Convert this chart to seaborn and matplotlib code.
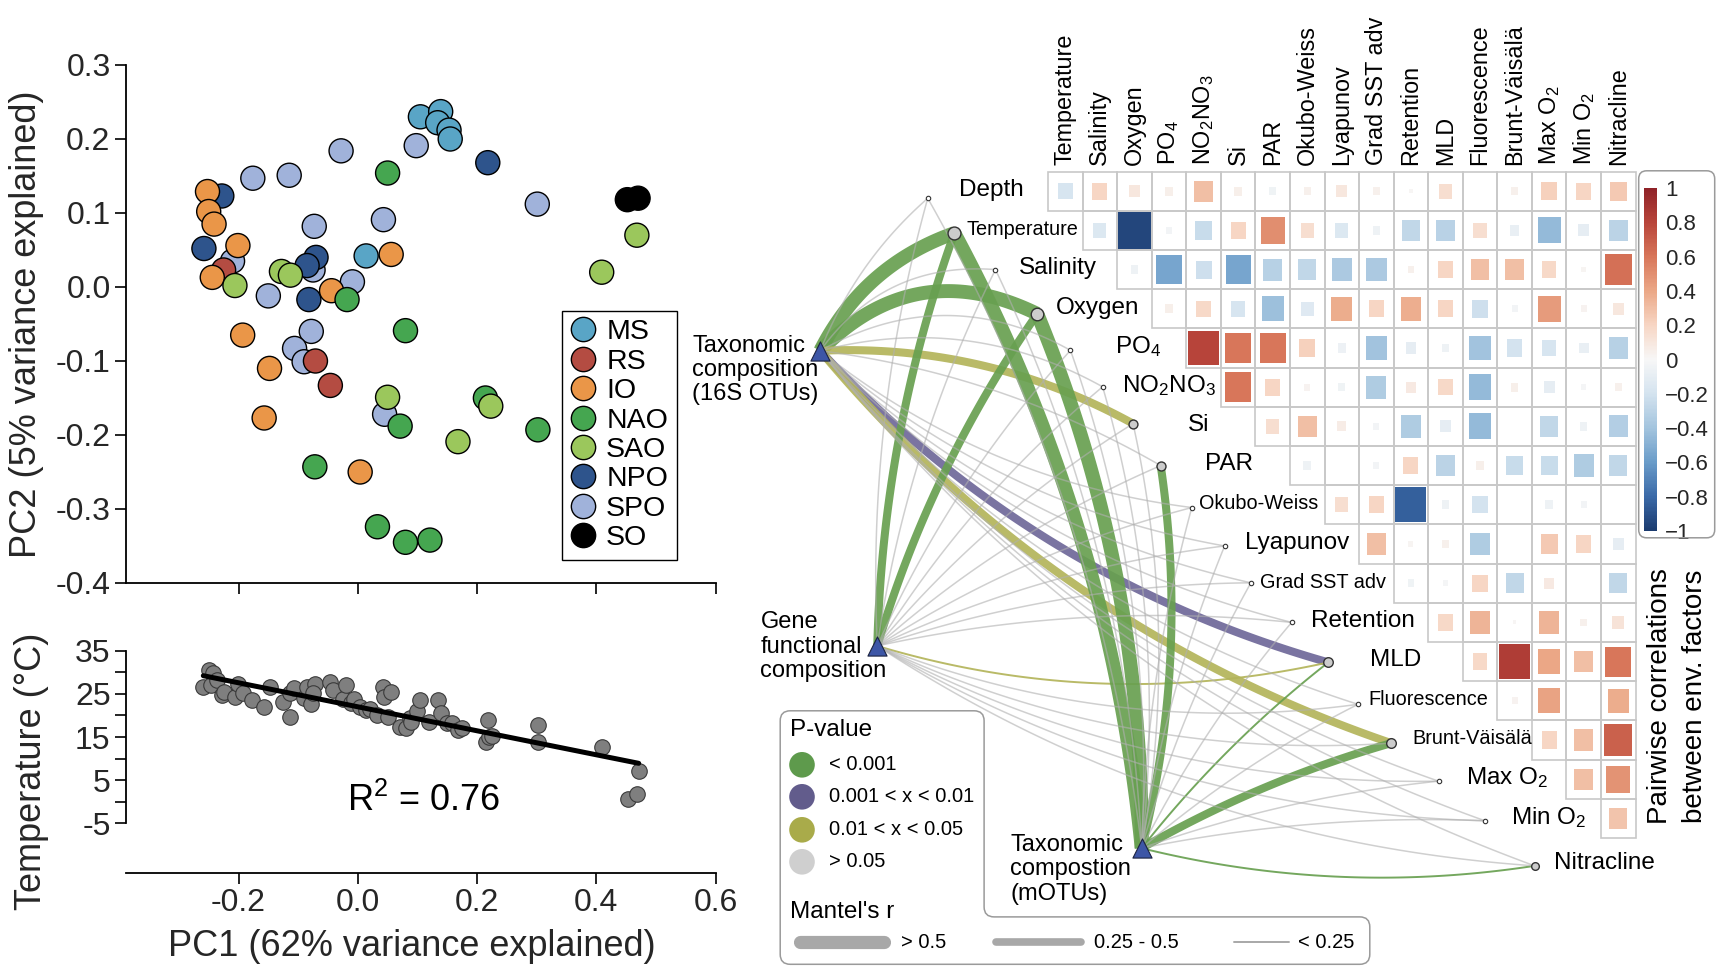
import numpy as np
import pandas as pd
import matplotlib
matplotlib.use("Agg")
import matplotlib.pyplot as plt
import seaborn as sns
from matplotlib.path import Path
from matplotlib.patches import PathPatch, Rectangle
from matplotlib.lines import Line2D
from matplotlib.colors import Normalize, LinearSegmentedColormap
from matplotlib.cm import ScalarMappable

# ======================= DATA =======================
regions = ["MS", "RS", "IO", "NAO", "SAO", "NPO", "SPO", "SO"]
region_colors = ["#59a5c6", "#b44c42", "#ea9648", "#45a650", "#9bc75c", "#2e548c", "#a0b2da", "#000000"]

ms_pc1 = [0.105, 0.139, 0.134, 0.153, 0.155, 0.014]
ms_pc2 = [0.230, 0.237, 0.222, 0.212, 0.200, 0.042]
rs_pc1 = [-0.225, -0.071, -0.046]
rs_pc2 = [0.023, -0.100, -0.133]
io_pc1 = [-0.252, -0.250, -0.241, -0.201, -0.244, 0.056, -0.044, -0.193, -0.148, -0.157, 0.004]
io_pc2 = [0.129, 0.102, 0.085, 0.056, 0.013, 0.044, -0.005, -0.065, -0.110, -0.177, -0.250]
nao_pc1 = [0.050, -0.018, 0.080, 0.214, 0.071, 0.302, -0.072, 0.033, 0.080, 0.121]
nao_pc2 = [0.154, -0.017, -0.059, -0.150, -0.188, -0.193, -0.243, -0.324, -0.345, -0.342]
sao_pc1 = [0.468, 0.409, -0.128, -0.113, -0.206, 0.050, 0.223, 0.168]
sao_pc2 = [0.070, 0.020, 0.021, 0.016, 0.002, -0.149, -0.161, -0.209]
npo_pc1 = [-0.228, -0.258, -0.070, -0.085, -0.082, 0.218]
npo_pc2 = [0.123, 0.052, 0.040, 0.029, -0.017, 0.168]
spo_pc1 = [-0.176, -0.115, -0.028, 0.098, 0.301, 0.043, -0.073, -0.210, -0.075, -0.009, -0.150, -0.078, -0.106, -0.090, 0.045]
spo_pc2 = [0.147, 0.151, 0.184, 0.191, 0.112, 0.091, 0.082, 0.035, 0.023, 0.007, -0.012, -0.060, -0.083, -0.101, -0.172]
so_pc1 = [0.452, 0.470]
so_pc2 = [0.118, 0.120]

pc2_ticks = [-0.4, -0.3, -0.2, -0.1, 0.0, 0.1, 0.2, 0.3]
pc2_ticklabels = ["-0.4", "-0.3", "-0.2", "-0.1", "0.0", "0.1", "0.2", "0.3"]
pc1_ticks = [-0.2, 0.0, 0.2, 0.4, 0.6]
pc1_ticklabels = ["-0.2", "0.0", "0.2", "0.4", "0.6"]

temp_pc1 = [-0.259, -0.249, -0.243, -0.246, -0.236, -0.228, -0.224, -0.206, -0.201, -0.192, -0.177, -0.157,
            -0.148, -0.126, -0.113, -0.114, -0.107, -0.090, -0.085, -0.078, -0.071, -0.075, -0.046, -0.042,
            -0.025, -0.019, -0.012, -0.007, 0.003, 0.014, 0.020, 0.032, 0.042, 0.044, 0.056, 0.050, 0.070,
            0.081, 0.088, 0.090, 0.099, 0.104, 0.120, 0.134, 0.140, 0.150, 0.158, 0.168, 0.175, 0.215, 0.220,
            0.218, 0.225, 0.302, 0.302, 0.409, 0.471, 0.453, 0.469]
temp_c = [26.7, 30.5, 29.8, 27.1, 28.2, 24.7, 25.5, 24.3, 27.4, 25.1, 23.6, 22.0,
          26.7, 23.2, 19.7, 25.1, 26.3, 24.0, 26.7, 22.6, 27.4, 25.1, 27.8, 26.0,
          23.9, 27.1, 23.0, 23.9, 22.0, 21.2, 21.5, 20.0, 26.7, 24.3, 25.5, 19.6, 17.4,
          17.0, 19.3, 18.5, 21.1, 23.6, 18.6, 23.6, 20.5, 18.2, 18.3, 16.6, 17.2, 13.9, 14.9,
          19.0, 15.2, 17.8, 13.9, 12.8, 7.2, 0.6, 1.7]
temp_ticks = [-5, 0, 5, 10, 15, 20, 25, 30, 35]
temp_ticklabels = ["-5", "", "5", "", "15", "", "25", "", "35"]

env_labels = ["Depth", "Temperature", "Salinity", "Oxygen", "PO$_4$", "NO$_2$NO$_3$", "Si", "PAR",
              "Okubo-Weiss", "Lyapunov", "Grad SST adv", "Retention", "MLD", "Fluorescence",
              "Brunt-Väisälä", "Max O$_2$", "Min O$_2$", "Nitracline"]

# upper-triangle Pearson correlations: row i = env i, columns env i+1 ... Nitracline
corr_rows = [
    [-0.18, 0.20, 0.10, 0.05, 0.30, 0.05, -0.04, 0.04, 0.10, 0.04, 0.01, 0.15, 0.00, 0.04, 0.22, 0.20, 0.25],
    [-0.15, -0.95, -0.03, -0.25, 0.20, 0.50, 0.15, -0.15, -0.05, -0.28, -0.31, 0.15, -0.08, -0.45, -0.10, -0.30],
    [-0.05, -0.55, -0.22, -0.55, -0.32, -0.28, -0.36, -0.36, 0.04, 0.20, 0.30, 0.30, 0.18, 0.02, 0.62],
    [0.05, 0.18, -0.18, -0.42, -0.14, 0.38, 0.20, 0.37, 0.20, -0.22, -0.03, 0.45, 0.03, 0.10],
    [0.80, 0.60, 0.60, 0.22, -0.06, -0.40, -0.10, -0.05, -0.40, -0.20, -0.18, -0.08, -0.32],
    [0.60, 0.20, 0.03, -0.04, -0.35, 0.08, 0.18, -0.45, 0.05, -0.10, -0.02, 0.04],
    [0.15, 0.30, 0.07, -0.03, -0.35, -0.10, -0.45, 0.00, -0.28, -0.05, -0.33],
    [-0.05, 0.00, -0.03, 0.20, -0.30, 0.05, -0.25, -0.25, -0.35, -0.28],
    [0.15, 0.20, -0.84, -0.05, -0.20, 0.00, -0.05, -0.03, 0.00],
    [0.30, 0.02, 0.04, -0.35, 0.00, 0.25, 0.20, -0.10],
    [-0.04, -0.02, 0.20, -0.28, 0.08, 0.00, -0.28],
    [0.18, 0.35, 0.01, 0.35, 0.04, 0.12],
    [0.18, 0.84, 0.40, 0.30, 0.60],
    [0.03, 0.42, 0.00, 0.38],
    [0.20, 0.30, 0.68],
    [0.30, 0.48],
    [0.28],
]
cbar_ticks = [1, 0.8, 0.6, 0.4, 0.2, 0, -0.2, -0.4, -0.6, -0.8, -1]
cbar_ticklabels = ["1", "0.8", "0.6", "0.4", "0.2", "0", "\u22120.2", "\u22120.4", "\u22120.6", "\u22120.8", "\u22121"]
corr_cmap_colors = ["#1b3b6f", "#3b6aa8", "#6a9cc9", "#a3c4de", "#d4e3ef", "#f7f7f7",
                    "#f7d6c4", "#eba887", "#d8765a", "#b8453a", "#8f2228"]

source_names = [["Taxonomic", "composition", "(16S OTUs)"],
                ["Gene", "functional", "composition"],
                ["Taxonomic", "compostion", "(mOTUs)"]]
mantel_r_16s = [0.12, 0.62, 0.10, 0.58, 0.08, 0.06, 0.30, 0.12, 0.05, 0.04, 0.07, 0.09, 0.36, 0.10, 0.34, 0.11, 0.06, 0.14]
mantel_p_16s = [0.21, 0.0005, 0.32, 0.0005, 0.45, 0.52, 0.03, 0.12, 0.61, 0.70, 0.44, 0.38, 0.004, 0.25, 0.02, 0.18, 0.55, 0.09]
mantel_r_gene = [0.10, 0.41, 0.08, 0.38, 0.07, 0.05, 0.13, 0.09, 0.04, 0.05, 0.06, 0.08, 0.18, 0.09, 0.12, 0.10, 0.05, 0.11]
mantel_p_gene = [0.25, 0.0008, 0.40, 0.0009, 0.48, 0.55, 0.10, 0.20, 0.66, 0.62, 0.50, 0.41, 0.04, 0.30, 0.11, 0.22, 0.58, 0.15]
mantel_r_motu = [0.11, 0.66, 0.09, 0.63, 0.08, 0.07, 0.14, 0.31, 0.05, 0.04, 0.06, 0.10, 0.21, 0.10, 0.37, 0.12, 0.07, 0.19]
mantel_p_motu = [0.19, 0.0002, 0.35, 0.0003, 0.50, 0.47, 0.08, 0.0006, 0.64, 0.71, 0.49, 0.33, 0.0009, 0.27, 0.0004, 0.15, 0.52, 0.0008]

p_labels = ["< 0.001", "0.001 < x < 0.01", "0.01 < x < 0.05", "> 0.05"]
p_colors = ["#5e9a4c", "#625c8c", "#a9ab4a", "#cfcfcf"]
edge_colors = ["#68a050", "#6f6899", "#b3b45a", "#b0b0b0"]
r_labels = ["> 0.5", "0.25 - 0.5", "< 0.25"]

# ======================= STYLE =======================
sns.set_theme(style="ticks")
plt.rcParams["font.family"] = ["Liberation Sans", "DejaVu Sans"]
plt.rcParams["mathtext.fontset"] = "custom"
plt.rcParams["mathtext.rm"] = "Liberation Sans"
plt.rcParams["mathtext.it"] = "Liberation Sans:italic"
plt.rcParams["mathtext.bf"] = "Liberation Sans:bold"
plt.rcParams["axes.unicode_minus"] = False
plt.rcParams["text.color"] = "black"

W, H = 1728, 977
fig = plt.figure(figsize=(W / 100, H / 100), dpi=100)
fig.patch.set_facecolor("white")


def fx(x):
    return x / W


def fy(y):
    return 1 - y / H


XL, XR = 125.8, 715.6

# ---------------- PCA panel ----------------
ax1 = fig.add_axes([fx(XL), fy(583), (XR - XL) / W, (583 - 65) / H])
frames = []
order = [("SPO", spo_pc1, spo_pc2), ("MS", ms_pc1, ms_pc2), ("NPO", npo_pc1, npo_pc2),
         ("RS", rs_pc1, rs_pc2), ("IO", io_pc1, io_pc2), ("NAO", nao_pc1, nao_pc2),
         ("SAO", sao_pc1, sao_pc2), ("SO", so_pc1, so_pc2)]
for name, xs, ys in order:
    frames.append(pd.DataFrame({"PC1": xs, "PC2": ys, "Region": name}))
df_pca = pd.concat(frames, ignore_index=True)
sns.scatterplot(data=df_pca, x="PC1", y="PC2", hue="Region", palette=dict(zip(regions, region_colors)),
                s=300, edgecolor="black", linewidth=1.0, legend=False, ax=ax1, zorder=3)
ax1.set_xlim(-0.389, 0.6)
ax1.set_ylim(-0.4, 0.3)
ax1.set_xticks(pc1_ticks)
ax1.set_xticklabels([])
ax1.set_yticks(pc2_ticks)
ax1.set_yticklabels(pc2_ticklabels)
ax1.set_xlabel("")
ax1.set_ylabel("PC2 (5% variance explained)", fontsize=26)
ax1.yaxis.set_label_coords(-0.138, 0.5)
sns.despine(ax=ax1)
for sp in ["left", "bottom"]:
    ax1.spines[sp].set_linewidth(1.3)
    ax1.spines[sp].set_color("black")
ax1.tick_params(direction="out", length=8, width=1.2, labelsize=23, color="black", pad=3)

handles = [Line2D([], [], ls="", marker="o", markersize=17.5, markerfacecolor=c,
                  markeredgecolor="black", markeredgewidth=1) for c in region_colors]
leg = ax1.legend(handles, regions, loc="upper left", bbox_to_anchor=(fx(562), fy(310.8)),
                 bbox_transform=fig.transFigure, frameon=True, fancybox=False, edgecolor="black",
                 fontsize=20.5, handlelength=0.85, handletextpad=0.4, labelspacing=0.12,
                 borderpad=0.3, borderaxespad=0.0, framealpha=1)
leg.get_frame().set_linewidth(1.0)

# ---------------- Temperature regression panel ----------------
ax2 = fig.add_axes([fx(XL), fy(873), (XR - XL) / W, (873 - 646.4) / H])
sns.regplot(x=np.array(temp_pc1), y=np.array(temp_c), ax=ax2, ci=None, truncate=True,
            scatter_kws=dict(s=125, color="#7f7f7f", edgecolor="#3a3a3a", linewidths=0.8, alpha=1, zorder=3),
            line_kws=dict(color="black", lw=3.6, zorder=4))
ax2.set_xlim(-0.389, 0.6)
ax2.set_ylim(-16.5, 36)
ax2.set_xticks(pc1_ticks)
ax2.set_xticklabels(pc1_ticklabels)
ax2.set_yticks(temp_ticks)
ax2.set_yticklabels(temp_ticklabels)
sns.despine(ax=ax2)
ax2.spines["left"].set_bounds(-5, 35)
for sp in ["left", "bottom"]:
    ax2.spines[sp].set_linewidth(1.3)
    ax2.spines[sp].set_color("black")
ax2.tick_params(direction="out", length=8, width=1.2, labelsize=23, color="black", pad=3)
ax2.set_xlabel("PC1 (62% variance explained)", fontsize=26)
ax2.xaxis.set_label_coords(0.485, -0.245)
ax2.set_ylabel("Temperature (\u00b0C)", fontsize=26)
ax2.yaxis.set_label_coords(-0.131, 0.45)
ax2.text(0.11, 0.3, "R$^2$ = 0.76", fontsize=26, ha="center", va="center")

# ---------------- Correlation matrix + Mantel network ----------------
X0, CW, Y0, RH = 1065.3, 34.56, 191.2, 39.2
corr_cmap = LinearSegmentedColormap.from_list("corr", corr_cmap_colors)


def to_px(gx, gy):
    return X0 + CW * np.asarray(gx), Y0 + RH * np.asarray(gy)


def to_grid(px, py):
    return (np.asarray(px) - X0) / CW, (np.asarray(py) - Y0) / RH


ax_net = fig.add_axes([0, 0, 1, 1])
ax_net.patch.set_alpha(0)

rows, cols, vals = [], [], []
for i, rv in enumerate(corr_rows):
    for k, v in enumerate(rv):
        rows.append(i)
        cols.append(i + k)
        vals.append(v)
df_c = pd.DataFrame(dict(row=rows, col=cols, r=vals))
df_c["absr"] = df_c["r"].abs()
for i, j in zip(rows, cols):
    ax_net.add_patch(Rectangle((j - 0.5, i - 0.5), 1, 1, fill=False, ec="#c8c8c8", lw=1.2, zorder=1))
hw = CW / RH
rect_marker = Path([(-hw, -1), (hw, -1), (hw, 1), (-hw, 1), (-hw, -1)],
                   [Path.MOVETO, Path.LINETO, Path.LINETO, Path.LINETO, Path.CLOSEPOLY])
sns.scatterplot(data=df_c, x="col", y="row", hue="r", palette=corr_cmap, hue_norm=(-1, 1),
                size="absr", sizes=(0, 770), size_norm=(0, 1), marker=rect_marker, linewidth=0,
                legend=False, ax=ax_net, zorder=3)

for j, lab in enumerate(env_labels[1:]):
    ax_net.text(j, -0.67, lab, rotation=90, ha="center", va="bottom", fontsize=16.8)

# network layout (grid units)
node_gx = [-3.98, -3.21, -2.02, -0.81, 0.15, 1.08, 1.96, 2.76, 3.66, 4.61, 5.37, 6.55, 7.61, 8.47, 9.43, 10.8, 12.14, 13.58]
node_gy = [0.18, 1.07, 2.0, 3.13, 4.06, 4.99, 5.93, 7.0, 8.07, 9.05, 9.99, 11.0, 12.02, 13.09, 14.08, 15.05, 16.06, 17.21]
label_gx = [-3.08, -2.86, -1.33, -0.28, 1.44, 1.63, 3.55, 4.03, 3.87, 5.21, 5.62, 7.12, 8.81, 8.78, 10.05, 11.59, 12.89, 14.13]
small_labels = {"Temperature", "Okubo-Weiss", "Grad SST adv", "Fluorescence", "Brunt-Väisälä"}
src_grid = [(-7.09, 4.07), (-5.44, 11.6), (2.21, 16.76)]
src_label_pos = [(-10.8, [3.94, 4.57, 5.17]), (-8.82, [10.98, 11.63, 12.24]), (-1.59, [16.68, 17.3, 17.92])]
mantel_r = [mantel_r_16s, mantel_r_gene, mantel_r_motu]
mantel_p = [mantel_p_16s, mantel_p_gene, mantel_p_motu]
a_bend = [0.06, 0.10, 0.14, 0.18, 0.14, 0.10, 0.07, 0.05]


def bend(s, k):
    if s == 0:
        return a_bend[k] if k <= 7 else -0.07
    if s == 1:
        return 0.04 if k <= 11 else -0.065
    if k <= 7:
        return -0.05
    return 0.03 if k <= 16 else -0.05


def bezier(p0, p2, h, n=80):
    p0 = np.array(p0, dtype=float)
    p2 = np.array(p2, dtype=float)
    d = p2 - p0
    L = np.hypot(*d)
    nl = np.array([d[1], -d[0]]) / L
    p1 = (p0 + p2) / 2 + 2 * h * L * nl
    t = np.linspace(0, 1, n)[:, None]
    return (1 - t) ** 2 * p0 + 2 * (1 - t) * t * p1 + t ** 2 * p2


def p_class(p):
    if p < 0.001:
        return 0
    if p < 0.01:
        return 1
    if p < 0.05:
        return 2
    return 3


def r_width(r):
    if r > 0.5:
        return 10.0
    if r >= 0.25:
        return 5.8
    return 1.4


for s, (sx, sy) in enumerate(src_grid):
    p0 = to_px(sx, sy)
    for k in range(len(env_labels)):
        p2 = to_px(node_gx[k], node_gy[k])
        curve = bezier(p0, p2, bend(s, k))
        gx, gy = to_grid(curve[:, 0], curve[:, 1])
        pc = p_class(mantel_p[s][k])
        if pc == 3:
            ax_net.plot(gx, gy, color=edge_colors[3], lw=1.1, alpha=0.6, zorder=4, solid_capstyle="butt")
        else:
            ax_net.plot(gx, gy, color=edge_colors[pc], lw=r_width(mantel_r[s][k]), alpha=0.92,
                        zorder=3.5, solid_capstyle="butt")

for k in range(len(env_labels)):
    sig = [mantel_r[s][k] for s in range(3) if mantel_p[s][k] < 0.05]
    if sig:
        d = 4 + 8 * max(sig)
        ax_net.scatter(node_gx[k], node_gy[k], s=d ** 2, c="#cccccc", edgecolors="#333333", linewidths=1.0, zorder=6)
    else:
        ax_net.scatter(node_gx[k], node_gy[k], s=3.2 ** 2, c="white", edgecolors="#333333", linewidths=0.8, zorder=6)
    fs = 14.3 if env_labels[k] in small_labels else 17.5
    ly = 17.13 if k == len(env_labels) - 1 else k - 0.03
    ax_net.text(label_gx[k], ly, env_labels[k], fontsize=fs, ha="left", va="center", zorder=7)

for s, (sx, sy) in enumerate(src_grid):
    ax_net.scatter(sx, sy, marker="^", s=190, c="#3d56a6", edgecolors="#1c2340", linewidths=0.8, zorder=8)
    lx, lys = src_label_pos[s]
    for line, ly in zip(source_names[s], lys):
        ax_net.text(lx, ly, line, fontsize=17, ha="left", va="center", zorder=8)

ax_net.set_xlim((0 - X0) / CW, (W - X0) / CW)
ax_net.set_ylim((H - Y0) / RH, (0 - Y0) / RH)
ax_net.axis("off")

# ---------------- colour bar ----------------
cax = fig.add_axes([fx(1644), fy(531), 13 / W, (531 - 188) / H])
sm = ScalarMappable(norm=Normalize(-1, 1), cmap=corr_cmap)
cb = fig.colorbar(sm, cax=cax, ticks=cbar_ticks)
cb.ax.set_yticklabels(cbar_ticklabels)
cb.outline.set_visible(False)
cax.tick_params(length=3, color="white", width=1, direction="in", labelsize=16, pad=6)

# ---------------- pixel overlay for legend boxes ----------------
ax_px = fig.add_axes([0, 0, 1, 1])
ax_px.set_xlim(0, W)
ax_px.set_ylim(H, 0)
ax_px.axis("off")
ax_px.patch.set_alpha(0)


def rounded_poly(pts, r):
    verts, codes = [], []
    n = len(pts)
    for i in range(n):
        pp = np.array(pts[i - 1], float)
        p = np.array(pts[i], float)
        pn = np.array(pts[(i + 1) % n], float)
        a = p + (pp - p) / np.linalg.norm(pp - p) * r
        b = p + (pn - p) / np.linalg.norm(pn - p) * r
        verts.append(a)
        codes.append(Path.MOVETO if i == 0 else Path.LINETO)
        verts += [p, b]
        codes += [Path.CURVE3, Path.CURVE3]
    verts.append(verts[0])
    codes.append(Path.LINETO)
    return Path(verts, codes)


cbox = rounded_poly([(1638.7, 170.8), (1714.7, 170.8), (1714.7, 537.8), (1638.7, 537.8)], 8)
ax_px.add_patch(PathPatch(cbox, fill=False, ec="#9a9a9a", lw=1.1))
ax_px.text(1660, 696, "Pairwise correlations", rotation=90, ha="center", va="center", fontsize=20)
ax_px.text(1695, 696, "between env. factors", rotation=90, ha="center", va="center", fontsize=20)

lbox = rounded_poly([(780.2, 710.8), (984.1, 710.8), (984.1, 916.9), (1369.8, 916.9),
                     (1369.8, 964.3), (780.2, 964.3)], 10)
ax_px.add_patch(PathPatch(lbox, fill=False, ec="#9a9a9a", lw=1.1))
ax_px.text(790, 729.5, "P-value", fontsize=17.5, ha="left", va="center")
for yy, c, lab in zip([764.8, 796.8, 829.8, 861.8], p_colors, p_labels):
    ax_px.scatter(802, yy, s=340, c=c, edgecolors="none")
    ax_px.text(828.7, yy, lab, fontsize=14.5, ha="left", va="center")
ax_px.text(790, 912.5, "Mantel's r", fontsize=17.5, ha="left", va="center")
for (x0, x1), lw, tx, lab in zip([(800, 884), (996, 1081), (1234.2, 1289.3)], [9.5, 5.5, 1.4],
                                 [901.4, 1094.3, 1298], r_labels):
    ax_px.plot([x0, x1], [942.2, 942.2], color="#a8a8a8", lw=lw, solid_capstyle="round")
    ax_px.text(tx, 942.2, lab, fontsize=14.5, ha="left", va="center")

fig.savefig("out.png", dpi=100)
